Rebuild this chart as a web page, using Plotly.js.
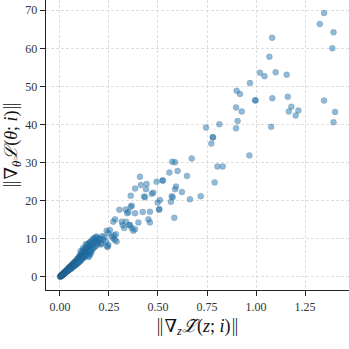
<!DOCTYPE html>
<html>
<head>
<meta charset="utf-8">
<script src="https://cdn.plot.ly/plotly-3.0.1.min.js"></script>
<style>html,body{margin:0;padding:0;background:#fff;}#chart{width:349px;height:349px;}</style>
</head>
<body>
<div id="chart"></div>
<script>
// Gradient norm w.r.t. latent z (x) vs gradient norm w.r.t. parameters theta (y)
const gradZ = [
  0.001,0.002,0.003,0.004,0.005,0.006,0.007,0.008,0.009,0.010,0.011,0.012,0.012,0.013,0.014,0.015,0.016,0.016,0.017,0.018,0.019,0.020,0.021,0.021,0.022,0.023,0.024,0.025,0.025,0.026,0.027,0.028,0.029,0.030,
  0.031,0.032,0.033,0.034,0.035,0.036,0.037,0.038,0.039,0.040,0.041,0.042,0.043,0.044,0.045,0.046,0.047,0.048,0.049,0.050,0.051,0.052,0.053,0.054,0.055,0.056,0.057,0.058,0.059,0.060,0.061,0.062,0.063,0.064,0.065,0.066,0.067,0.068,0.069,0.070,0.071,0.072,0.073,0.074,0.075,0.076,0.077,0.078,0.079,0.080,
  0.082,0.083,0.084,0.086,0.087,0.088,0.090,0.091,0.092,0.094,0.095,0.096,0.098,0.099,0.100,0.102,0.103,0.104,0.106,0.107,0.108,0.110,0.111,0.112,0.114,0.115,0.116,0.118,0.119,0.120,0.122,0.123,0.124,0.126,0.127,0.128,0.130,0.131,0.132,0.134,0.135,0.136,0.138,0.139,0.140,0.142,0.143,0.145,0.147,0.148,0.150,
  0.150,0.155,0.145,0.160,0.132,0.118,0.105,
  0.152,0.154,0.156,0.158,0.160,0.162,0.164,0.166,0.168,0.170,0.172,0.174,0.176,0.178,0.180,0.184,0.186,0.188,0.192,0.195,0.198,0.204,0.210,0.216,0.226,0.243,
  0.187,0.204,0.221,0.213,0.235,0.247,0.241,0.238,0.247,0.255,0.264,0.272,0.281,0.289,0.276,0.286,
  0.328,0.357,0.366,0.374,0.320,0.354,0.383,0.281,0.272,0.315,0.337,0.400,0.451,0.459,
  0.366,0.335,0.303,0.349,0.343,0.383,0.422,0.459,0.507,0.505,0.583,0.361,
  0.361,0.429,0.468,0.476,0.510,0.498,0.570,0.575,0.566,0.587,0.493,0.524,0.524,0.592,0.408,0.413,0.442,0.439,0.434,0.622,0.718,0.663,0.383,
  0.558,0.600,0.648,0.573,0.587,0.672,0.803,0.830,0.789,0.966,0.772,0.781,0.745,0.813,0.898,0.906,
  0.898,0.927,1.180,1.167,1.216,1.202,1.403,1.395,1.077,0.779,
  0.901,0.918,0.995,0.998,1.083,1.162,1.347,0.969,1.020,1.043,1.100,1.156,1.068,1.082,1.389,1.395,1.325,1.347
];
const gradTheta = [
  0.05,0.1,0.1,0.2,0.3,0.2,0.3,0.4,0.3,0.5,0.4,0.6,0.5,0.5,0.7,0.6,0.8,0.6,0.7,0.9,0.8,1.0,0.9,1.0,1.1,0.9,1.2,1.0,1.2,1.3,1.1,1.4,1.2,1.5,
  1.3,1.6,1.4,1.7,1.5,1.8,1.6,1.9,1.5,2.0,1.8,2.2,1.7,2.1,2.3,1.9,2.4,2.0,2.5,2.1,2.6,2.3,2.0,2.7,2.4,2.9,2.2,2.6,3.0,2.5,2.8,3.2,2.4,2.9,3.3,2.7,3.1,3.5,2.8,3.2,3.7,2.9,3.4,3.9,3.1,3.6,2.9,4.0,3.3,3.8,
  4.2,3.2,3.7,4.5,3.5,4.0,4.8,3.6,4.3,5.0,3.8,4.5,5.3,4.0,4.8,5.6,4.1,5.0,5.9,4.4,5.2,6.2,4.6,5.5,6.5,4.8,5.7,6.8,5.0,6.0,7.1,5.2,6.2,7.3,5.4,6.5,7.6,5.6,6.8,7.9,5.8,7.0,8.2,6.0,7.2,8.5,6.3,7.5,8.8,6.5,7.7,
  5.5,6.0,5.2,6.4,8.6,7.6,6.8,
  9.0,6.8,8.0,9.3,7.0,8.3,9.6,7.3,8.6,10.0,7.6,8.9,10.2,7.9,9.2,10.4,8.2,9.5,8.6,10.0,9.0,9.7,8.5,10.7,10.4,7.9,
  10.6,10.1,9.7,8.8,9.3,8.4,8.0,12.1,11.5,12.3,10.6,10.1,9.7,9.3,10.9,11.2,
  12.8,13.6,12.8,12.1,13.6,13.6,12.5,15.1,14.5,14.5,14.5,14.3,15.1,14.3,
  18.7,17.7,17.6,17.0,16.7,16.7,17.0,17.1,17.8,17.6,15.5,18.4,
  21.3,21.1,21.8,22.1,20.2,19.5,21.2,20.9,19.7,23.0,25.0,25.3,25.3,23.7,26.3,24.1,24.4,23.0,20.9,22.3,21.2,20.4,23.2,
  27.4,27.8,26.5,30.2,30.1,31.1,29.0,29.0,24.8,31.9,35.0,36.6,39.2,40.1,39.0,40.9,
  44.5,43.4,44.7,43.4,43.7,42.4,43.3,40.6,39.4,36.7,
  48.9,48.0,46.4,46.3,46.9,47.3,46.3,50.9,53.6,52.7,53.7,53.1,57.8,62.8,60.0,64.2,66.4,69.3
];
const xTickVals = [0, 0.25, 0.5, 0.75, 1.0, 1.25];
const xTickText = ['0.00', '0.25', '0.50', '0.75', '1.00', '1.25'];
const yTickVals = [0, 10, 20, 30, 40, 50, 60, 70];

const serif = 'Liberation Serif, DejaVu Serif, serif';
const bar = '<span style="font-family:DejaVu Sans;font-weight:300">‖</span>';
const trace = {
  x: gradZ, y: gradTheta, type: 'scatter', mode: 'markers',
  marker: {size: 6, color: 'rgba(31,119,180,0.5)', line: {color: 'rgba(40,60,80,0.3)', width: 0.5}},
  hoverinfo: 'none'
};
const layout = {
  width: 349, height: 349,
  margin: {l: 46, r: 0, t: 0, b: 59},
  paper_bgcolor: '#fff', plot_bgcolor: '#fff',
  showlegend: false,
  font: {family: serif, color: '#222', size: 12},
  xaxis: {
    range: [-0.071, 1.474], tickvals: xTickVals, ticktext: xTickText,
    showgrid: true, gridcolor: '#d0d0d0', griddash: '3px,2px', gridwidth: 0.7,
    zeroline: false, showline: true, linecolor: '#222', linewidth: 1.3,
    ticks: 'outside', ticklen: 5, tickcolor: '#222', tickwidth: 1,
    tickfont: {family: serif, size: 12, color: '#333'},
    title: {text: bar + '∇<sub><i>z</i></sub><i>ℒ̃</i>(<i>z</i>; <i>i</i>)' + bar, font: {family: serif, size: 18, color: '#111'}, standoff: 6}
  },
  yaxis: {
    range: [-3.45, 72.7], tickvals: yTickVals,
    showgrid: true, gridcolor: '#d0d0d0', griddash: '3px,2px', gridwidth: 0.7,
    zeroline: false, showline: true, linecolor: '#222', linewidth: 1.3,
    ticks: 'outside', ticklen: 5, tickcolor: '#222', tickwidth: 1,
    tickfont: {family: serif, size: 12, color: '#333'},
    title: {text: bar + '∇<sub><i>θ</i></sub><i>ℒ</i>(<i>θ</i>; <i>i</i>)' + bar, font: {family: serif, size: 18, color: '#111'}, standoff: 6}
  }
};
Plotly.newPlot('chart', [trace], layout, {staticPlot: true, displayModeBar: false});
</script>
</body>
</html>
